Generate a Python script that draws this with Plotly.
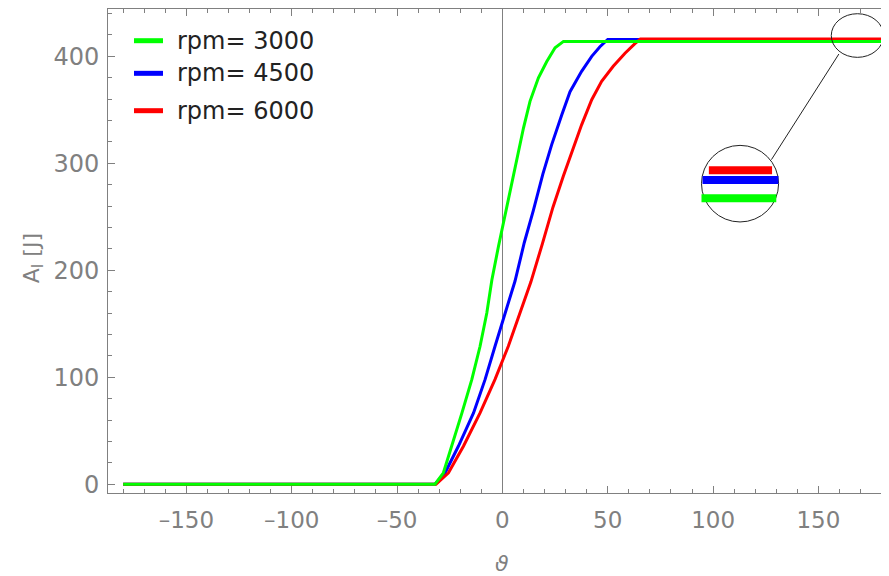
import plotly.graph_objects as go

# ---------------- data ----------------
labels = ["rpm= 3000", "rpm= 4500", "rpm= 6000"]
colors = ["#00ff00", "#0000ff", "#ff0000"]

theta_3000 = [-180, -32, -28, -24, -19.2, -14.5, -10.6, -7.4, -5, -1.9, 0.5, 3.6, 6.8, 10, 13.1, 17.1, 21, 25, 29, 180]
A_3000 = [0, 0, 10.7, 35.5, 66.7, 98, 129, 160, 191, 222, 244, 274, 305, 333, 358, 380, 395, 408, 414, 414]

theta_4500 = [-180, -32, -27.2, -20.9, -13.7, -8.2, -3.5, 1.3, 6, 10.4, 14.7, 19.2, 23.4, 28.2, 32.1, 37.6, 42.4, 46.3, 50, 180]
A_4500 = [0, 0, 10.7, 35.5, 66.7, 98, 129, 160, 190, 226, 256, 290, 317.5, 345.5, 367, 386, 400, 409, 415.8, 415.8]

theta_6000 = [-180, -31.5, -25.6, -18.5, -10.6, -3.5, 2.8, 8.4, 13.5, 19, 24, 28.9, 32.9, 37.6, 42.4, 47.1, 52.6, 58.2, 62.9, 65.5, 180]
A_6000 = [0, 0, 10.7, 35.5, 66.7, 98, 129, 160, 189, 225, 259, 288, 311, 336, 359.5, 376.6, 390.7, 403, 412, 416.2, 416.2]

x_ticks = [-150, -100, -50, 0, 50, 100, 150]
y_ticks = [0, 100, 200, 300, 400]

# zoom-inset decoration (data coordinates)
small_circle = [156.1, 399.1, 180.9, 439.9]   # x0, y0, x1, y1
big_circle = [94.5, 245.2, 131.1, 316.8]
connector = [159.7, 402.2, 127.7, 303.5]
inset_x0 = [94.5, 95, 98]        # green, blue, red stripes
inset_x1 = [130, 131, 128]
inset_y = [267.3, 284.4, 293.6]

# legend placement (paper coordinates)
legend_y = [0.9345, 0.8671, 0.7899]
legend_swatch_x = [0.0333, 0.0704]
legend_text_x = 0.0858

FONT = "DejaVu Sans"
GRAY = "#808080"

fig = go.Figure()

# curves (drawing order: blue, red, green on top)
series = [(theta_4500, A_4500, colors[1], labels[1]),
          (theta_6000, A_6000, colors[2], labels[2]),
          (theta_3000, A_3000, colors[0], labels[0])]
for th, a, col, lab in series:
    fig.add_trace(go.Scatter(x=th, y=a, mode="lines", name=lab, showlegend=False,
                             line=dict(color=col, width=3), hoverinfo="skip"))

# manual legend
for lab, col, ly in zip(labels, colors, legend_y):
    fig.add_shape(type="line", xref="paper", yref="paper",
                  x0=legend_swatch_x[0], x1=legend_swatch_x[1], y0=ly, y1=ly,
                  line=dict(color=col, width=5))
    fig.add_annotation(text=lab, xref="paper", yref="paper", x=legend_text_x, y=ly,
                       xanchor="left", yanchor="middle", showarrow=False,
                       font=dict(family=FONT, size=24, color="#222222"))

# inset shapes
fig.add_shape(type="circle", xref="x", yref="y",
              x0=small_circle[0], y0=small_circle[1], x1=small_circle[2], y1=small_circle[3],
              line=dict(color="#222222", width=1))
fig.add_shape(type="circle", xref="x", yref="y",
              x0=big_circle[0], y0=big_circle[1], x1=big_circle[2], y1=big_circle[3],
              line=dict(color="#222222", width=1), fillcolor="white", layer="above")
fig.add_shape(type="line", xref="x", yref="y",
              x0=connector[0], y0=connector[1], x1=connector[2], y1=connector[3],
              line=dict(color="#222222", width=1))
for x0, x1, yy, col in zip(inset_x0, inset_x1, inset_y, colors):
    fig.add_shape(type="line", xref="x", yref="y", x0=x0, x1=x1, y0=yy, y1=yy,
                  line=dict(color=col, width=8), layer="above")

# axis titles
fig.add_annotation(text="<i>ϑ</i>", xref="x", yref="paper", x=0, y=-0.145,
                   showarrow=False, font=dict(family=FONT, size=22, color=GRAY),
                   xanchor="center", yanchor="middle")
fig.add_annotation(text="A<sub>I</sub> [J]", xref="paper", yref="paper",
                   x=-0.096, y=0.485, textangle=-90, showarrow=False,
                   font=dict(family=FONT, size=22, color=GRAY),
                   xanchor="center", yanchor="middle")

axis_common = dict(showgrid=False, showline=True, linecolor=GRAY, linewidth=1,
                   ticks="inside", tickcolor=GRAY, ticklen=7, tickwidth=1,
                   automargin=False)

fig.update_xaxes(range=[-187.2, 183.5], tickvals=x_ticks,
                 ticktext=[str(v).replace("-", "–") for v in x_ticks],
                 tickfont=dict(family=FONT, size=23, color=GRAY),
                 mirror="ticks", zeroline=True, zerolinecolor=GRAY, zerolinewidth=1,
                 minor=dict(dtick=10, tick0=0, ticks="inside", ticklen=4, tickcolor=GRAY),
                 ticklabelstandoff=6, **axis_common)
fig.update_yaxes(range=[-8.2, 444.3], tickvals=y_ticks,
                 tickfont=dict(family=FONT, size=24, color=GRAY),
                 mirror=False, zeroline=False,
                 minor=dict(dtick=20, tick0=0, ticks="inside", ticklen=4, tickcolor=GRAY),
                 ticklabelstandoff=3, **axis_common)

# the page body has an 8px margin: size the figure so the frame lands where
# the reference frame is
fig.update_layout(
    width=881, height=568,
    margin=dict(l=100, r=0, t=1, b=83),
    paper_bgcolor="white", plot_bgcolor="white",
    showlegend=False,
)

fig.write_html("out.html")
